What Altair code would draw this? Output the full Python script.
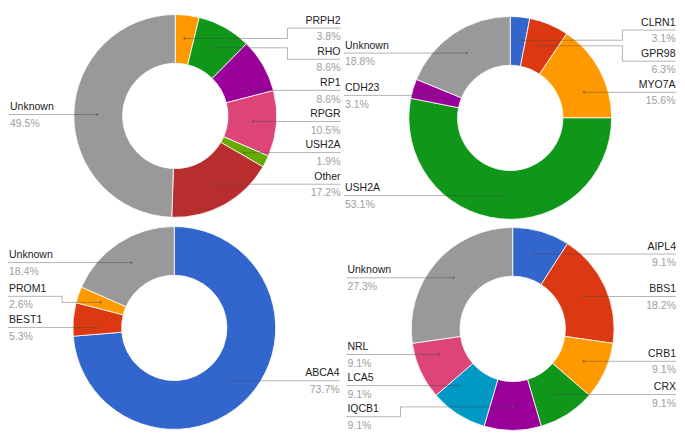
import math
import altair as alt
import pandas as pd

# ---------------- data ----------------
tl_genes = ["PRPH2", "RHO", "RP1", "RPGR", "USH2A", "Other", "Unknown"]
tl_values = [3.8, 8.6, 8.6, 10.5, 1.9, 17.2, 49.5]
tl_colors = ["#ff9900", "#109618", "#990099", "#dd4477", "#66aa00", "#b82e2e", "#999999"]

tr_genes = ["CLRN1", "GPR98", "MYO7A", "USH2A", "CDH23", "Unknown"]
tr_values = [3.1, 6.3, 15.6, 53.1, 3.1, 18.8]
tr_colors = ["#3366cc", "#dc3912", "#ff9900", "#109618", "#990099", "#999999"]

bl_genes = ["ABCA4", "BEST1", "PROM1", "Unknown"]
bl_values = [73.7, 5.3, 2.6, 18.4]
bl_colors = ["#3366cc", "#dc3912", "#ff9900", "#999999"]

br_genes = ["AIPL4", "BBS1", "CRB1", "CRX", "IQCB1", "LCA5", "NRL", "Unknown"]
br_values = [9.1, 18.2, 9.1, 9.1, 9.1, 9.1, 9.1, 27.3]
br_colors = ["#3366cc", "#dc3912", "#ff9900", "#109618", "#990099", "#0099c6", "#dd4477", "#999999"]

# ---------------- layout ----------------
W, H = 669, 423
SX = W / 684.0
Y0 = 4.0
SY = H / 435.0
S = (SX + SY) / 2


def X(rx):
    return rx * SX


def Y(ry):
    return (ry - Y0) * SY


R = 104 * S
RI = 54 * S
RA = 80 * S
SPACING = 32 * SY
FONT = "Liberation Sans"

panels = [
    (tl_genes, tl_values, tl_colors, 171, 115),
    (tr_genes, tr_values, tr_colors, 513.5, 117),
    (bl_genes, bl_values, bl_colors, 170, 333),
    (br_genes, br_values, br_colors, 516, 334),
]


def spread(targets, s, lo, hi):
    n = len(targets)
    order = sorted(range(n), key=lambda i: targets[i])
    t = [targets[i] for i in order]
    clusters = []
    for i, v in enumerate(t):
        clusters.append([i, 1, v])
        while True:
            c = clusters[-1]
            members = t[c[0]:c[0] + c[1]]
            p = sum(members) / c[1] - (c[1] - 1) * s / 2
            p = min(max(p, lo), hi - (c[1] - 1) * s)
            c[2] = p
            if len(clusters) > 1:
                pc = clusters[-2]
                if pc[2] + pc[1] * s > c[2] + 1e-9:
                    pc[1] += c[1]
                    clusters.pop()
                    continue
            break
    out = [0.0] * n
    for c in clusters:
        for k in range(c[1]):
            out[order[c[0] + k]] = c[2] + k * s
    return out


arc_rows, seg_rows, dot_rows, text_rows = [], [], [], []

for genes, values, colors, rcx, rcy in panels:
    cx, cy = X(rcx), Y(rcy)
    total = float(sum(values))
    cum = 0.0
    sl = []
    for g, v, col in zip(genes, values, colors):
        t0, t1 = cum / total, (cum + v) / total
        cum += v
        arc_rows.append({"cx": cx, "cy": cy, "t0": t0, "t1": t1, "color": col, "gene": g})
        a0, a1 = t0 * 2 * math.pi, t1 * 2 * math.pi
        mid = (a0 + a1) / 2
        sl.append({
            "gene": g, "pct": f"{v:.1f}%", "a0": a0, "a1": a1, "mid": mid,
            "side": "R" if mid < math.pi else "L",
            "ax": cx + RA * math.sin(mid), "ay": cy - RA * math.cos(mid),
        })
    lo = cy - R + 14 * SY
    hi = cy + R - 14 * SY
    for side in ("R", "L"):
        items = [d for d in sl if d["side"] == side]
        if not items:
            continue
        ys = spread([d["ay"] for d in items], SPACING, lo, hi)
        for d, ly in zip(items, ys):
            if side == "R":
                edge = min(cx + 169 * SX, W - 1)
                elbow = cx + R + 11 * SX
            else:
                edge = max(cx - 170 * SX, 0)
                elbow = cx - R - 11 * SX
            ax, ay = d["ax"], d["ay"]
            c = (cy - ly) / RA
            straight = False
            if abs(c) <= 1:
                th = math.acos(c) if side == "R" else 2 * math.pi - math.acos(c)
                m = 0.15 * (d["a1"] - d["a0"])
                if d["a0"] + m <= th <= d["a1"] - m:
                    straight = True
                    ax, ay = cx + RA * math.sin(th), ly
            if abs(ay - ly) < 0.6:
                straight = True
            if straight:
                seg_rows.append({"x": ax, "y": ly, "x2": edge, "y2": ly})
            else:
                seg_rows.append({"x": ax, "y": ay, "x2": elbow, "y2": ay})
                seg_rows.append({"x": elbow, "y": ay, "x2": elbow, "y2": ly})
                seg_rows.append({"x": elbow, "y": ly, "x2": edge, "y2": ly})
            dot_rows.append({"x": ax, "y": ay})
            tx = edge if side == "R" else edge + 1
            text_rows.append({"x": tx, "y": ly - 4.5 * SY, "label": d["gene"], "side": side, "kind": "name"})
            text_rows.append({"x": tx, "y": ly + 12.5 * SY, "label": d["pct"], "side": side, "kind": "pct"})

arc_df = pd.DataFrame(arc_rows)
seg_df = pd.DataFrame(seg_rows)
dot_df = pd.DataFrame(dot_rows)
text_df = pd.DataFrame(text_rows)

xs = alt.Scale(domain=[0, W])
ys = alt.Scale(domain=[H, 0])
xe = alt.X("x:Q", scale=xs, axis=None)
ye = alt.Y("y:Q", scale=ys, axis=None)

arcs = alt.Chart(arc_df).mark_arc(
    outerRadius=R, innerRadius=RI, stroke="white", strokeWidth=0.8
).encode(
    x=alt.X("cx:Q", scale=xs, axis=None),
    y=alt.Y("cy:Q", scale=ys, axis=None),
    theta=alt.Theta("t0:Q", scale=alt.Scale(domain=[0, 1], range=[0, 2 * math.pi]), stack=None),
    theta2="t1:Q",
    color=alt.Color("color:N", scale=None),
)

segs = alt.Chart(seg_df).mark_rule(color="#444444", opacity=0.4, strokeWidth=1).encode(
    x=xe, y=ye, x2="x2:Q", y2="y2:Q"
)

dots = alt.Chart(dot_df).mark_circle(size=5, color="#555555", opacity=0.7).encode(x=xe, y=ye)

layers = [arcs, segs, dots]
for side, align in (("R", "right"), ("L", "left")):
    for kind, col in (("name", "#222222"), ("pct", "#9e9e9e")):
        sub = text_df[(text_df["side"] == side) & (text_df["kind"] == kind)]
        layers.append(
            alt.Chart(sub).mark_text(
                align=align, baseline="alphabetic", font=FONT, fontSize=10.5, color=col
            ).encode(x=xe, y=ye, text="label:N")
        )

chart = alt.layer(*layers).properties(
    width=W, height=H, padding=0, autosize=alt.AutoSizeParams(type="none")
).configure_view(strokeWidth=0)

chart.save("out.html", embed_options={"renderer": "svg", "actions": False})
